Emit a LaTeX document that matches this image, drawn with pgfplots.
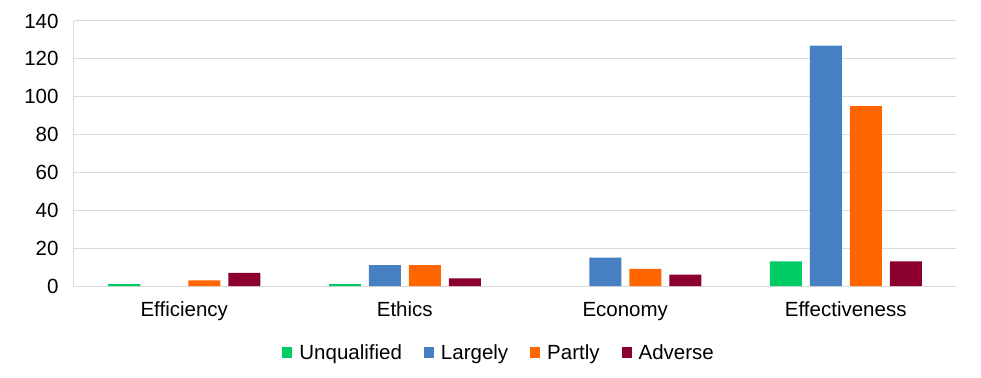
\documentclass[border=0pt]{standalone}
\usepackage{pgfplots}
\pgfplotsset{compat=1.18}
\usepackage{fontspec}
\setmainfont{Liberation Sans}
\definecolor{cUnq}{RGB}{0,204,102}
\definecolor{cLar}{RGB}{70,128,194}
\definecolor{cPar}{RGB}{255,102,0}
\definecolor{cAdv}{RGB}{139,0,48}
\definecolor{gridc}{RGB}{217,217,217}
\begin{document}
\begin{tikzpicture}
\useasboundingbox (-74pt,-91pt) rectangle (907pt,286pt);
\begin{axis}[
  scale only axis,
  width=882pt, height=265pt,
  ybar=8pt, bar width=32pt,
  xmin=-0.5, xmax=3.5,
  ymin=0, ymax=140,
  ytick={0,20,...,140},
  xtick={0,1,2,3},
  xticklabels={Efficiency,Ethics,Economy,Effectiveness},
  font=\fontsize{20.5pt}{24pt}\selectfont,
  /pgf/number format/assume math mode=true,
  ymajorgrids, grid style={gridc, line width=1pt},
  axis line style={gridc, line width=1pt},
  axis x line*=bottom, axis y line*=left,
  major tick length=0pt,
  yticklabel style={xshift=-12pt},
  xticklabel style={anchor=base, yshift=-30pt},
  legend columns=4,
  legend style={at={(0.482,-0.253)}, anchor=center, draw=none, fill=none,
    font=\fontsize{20.5pt}{24pt}\selectfont,
    /tikz/every odd column/.append style={column sep=5pt},
    /tikz/every even column/.append style={column sep=20pt}},
  legend image code/.code={\fill[#1] (0pt,-5pt) rectangle (10pt,6pt);},
]
\addplot[draw=none, fill=cUnq] coordinates {(0,1) (1,1) (3,13)};
\addplot[draw=none, fill=cLar] coordinates {(1,11) (2,15) (3,127)};
\addplot[draw=none, fill=cPar] coordinates {(0,3) (1,11) (2,9) (3,95)};
\addplot[draw=none, fill=cAdv] coordinates {(0,7) (1,4) (2,6) (3,13)};
\legend{Unqualified,Largely,Partly,Adverse}
\end{axis}
\end{tikzpicture}
\end{document}
